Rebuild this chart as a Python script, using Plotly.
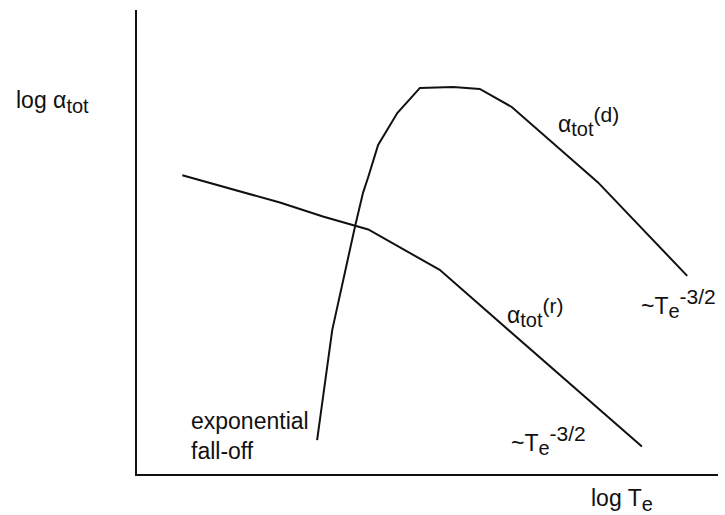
import plotly.graph_objects as go

# Schematic recombination-rate curves on log-log axes (arbitrary units)
# radiative recombination alpha_tot^(r)
rad_logT = [0.78, 2.46, 3.20, 3.98, 5.21, 8.69]
rad_logA = [6.44, 5.85, 5.55, 5.27, 4.40, 0.59]

# dielectronic recombination alpha_tot^(d)
die_logT = [3.10, 3.36, 3.75, 3.89, 3.98, 4.15, 4.48, 4.87, 5.44, 5.90, 6.45, 7.28, 7.93, 9.47]
die_logA = [0.73, 3.10, 5.32, 6.06, 6.40, 7.09, 7.78, 8.32, 8.34, 8.30, 7.91, 7.00, 6.29, 4.27]

W, H = 725, 515
ML, MR, MT, MB = 137, 7, 10, 41
FONT = "Liberation Sans, Arial, Helvetica, sans-serif"
INK = "#111111"
MAIN, SUB, SUP = 23, 20, 21

fig = go.Figure()
for xs, ys in [(rad_logT, rad_logA), (die_logT, die_logA)]:
    fig.add_trace(go.Scatter(x=xs, y=ys, mode="lines",
                             line=dict(color=INK, width=2),
                             hoverinfo="skip", showlegend=False))


def px_to_paper(px, py):
    pw, ph = W - ML - MR, H - MT - MB
    return (px - ML) / pw, 1 - (py - MT) / ph


def sub(s):
    return f'<sub><span style="font-size:{SUB}px">{s}</span></sub>'


def sup(s):
    return f'<sup><span style="font-size:{SUP}px">{s}</span></sup>'


labels = [
    ("log α" + sub("tot"), 14, 102),
    ("exponential<br>fall-off", 189, 436),
    ("α" + sub("tot") + sup("(d)"), 556, 121),
    ("~T" + sub("e") + sup("-3/2"), 639, 303),
    ("α" + sub("tot") + sup("(r)"), 505, 312),
    ("~T" + sub("e") + sup("-3/2"), 509, 440),
    ("log T" + sub("e"), 589, 500),
]
for text, px, py in labels:
    xp, yp = px_to_paper(px, py)
    fig.add_annotation(text=text, x=xp, y=yp, xref="paper", yref="paper",
                       xanchor="left", yanchor="middle", align="left",
                       showarrow=False,
                       font=dict(family=FONT, size=MAIN, color=INK))

axis_style = dict(showline=True, linecolor=INK, linewidth=2, mirror=False,
                  showgrid=False, zeroline=False, showticklabels=False,
                  ticks="", fixedrange=True)
fig.update_xaxes(range=[0, 10], **axis_style)
fig.update_yaxes(range=[0, 10], **axis_style)

fig.update_layout(width=W, height=H,
                  margin=dict(l=ML, r=MR, t=MT, b=MB, pad=0),
                  plot_bgcolor="white", paper_bgcolor="white")

fig.write_html("out.html")
